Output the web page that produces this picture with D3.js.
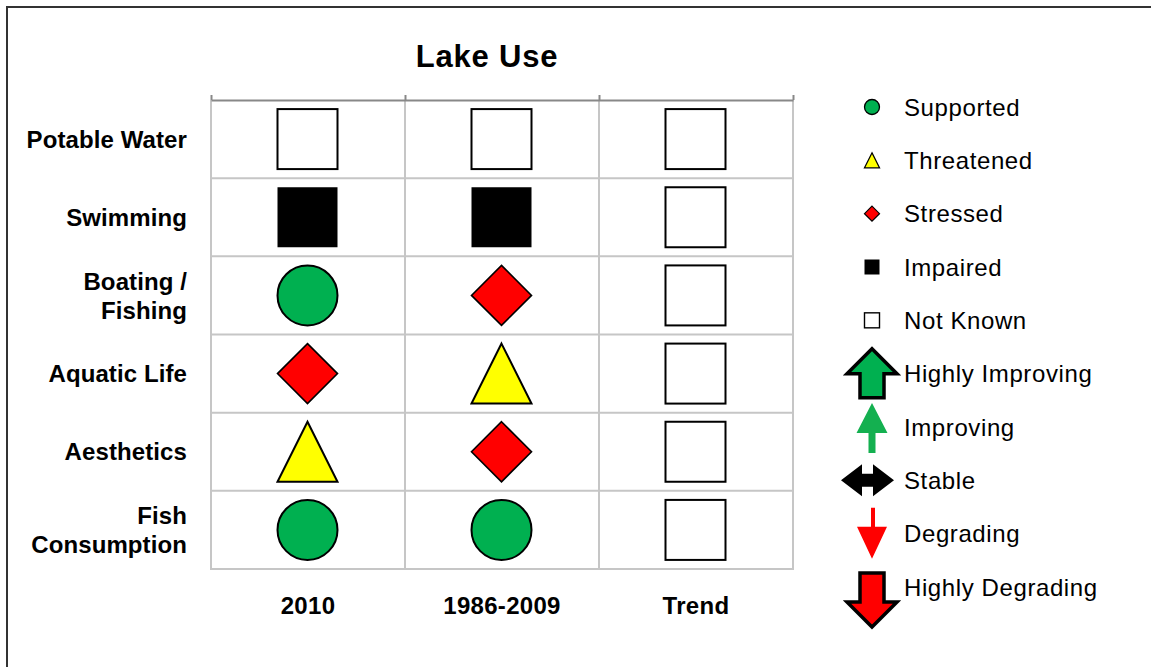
<!DOCTYPE html>
<html>
<head>
<meta charset="utf-8">
<script src="https://cdn.jsdelivr.net/npm/d3@7"></script>
<style>
  html, body { margin: 0; padding: 0; background: #fff; }
  svg { display: block; font-family: "Liberation Sans", Arial, sans-serif; }
</style>
</head>
<body>
<svg id="chart" width="1151" height="667"></svg>
<script>
// Lake use status table with symbol legend

const uses = ['Potable Water', 'Swimming', 'Boating / Fishing', 'Aquatic Life', 'Aesthetics', 'Fish Consumption'];
const useLines = [['Potable Water'], ['Swimming'], ['Boating /', 'Fishing'], ['Aquatic Life'], ['Aesthetics'], ['Fish', 'Consumption']];
const periods = ['2010', '1986-2009', 'Trend'];
const status2010 = ['notknown', 'impaired', 'supported', 'stressed', 'threatened', 'supported'];
const status1986 = ['notknown', 'impaired', 'stressed', 'threatened', 'stressed', 'supported'];
const statusTrend = ['notknown', 'notknown', 'notknown', 'notknown', 'notknown', 'notknown'];

const legendKeys = ['supported', 'threatened', 'stressed', 'impaired', 'notknown',
  'highlyimproving', 'improving', 'stable', 'degrading', 'highlydegrading'];
const legendLabels = ['Supported', 'Threatened', 'Stressed', 'Impaired', 'Not Known',
  'Highly Improving', 'Improving', 'Stable', 'Degrading', 'Highly Degrading'];

const GREEN = '#00b050', RED = '#ff0000', YELLOW = '#ffff00';

const svg = d3.select('#chart');

// outer frame (only top/left visible in the picture)
svg.append('rect')
  .attr('x', 7).attr('y', 7).attr('width', 1400).attr('height', 1000)
  .attr('fill', 'none').attr('stroke', '#333').attr('stroke-width', 2);

const x = d3.scaleBand().domain(periods).range([211, 793]);
const y = d3.scaleBand().domain(uses).range([100, 569]);

// grid
const grid = svg.append('g').attr('stroke', '#c6c6c6').attr('stroke-width', 2);
periods.slice(1).forEach(p => {
  grid.append('line').attr('x1', x(p)).attr('x2', x(p)).attr('y1', 100).attr('y2', 569);
});
uses.slice(1).forEach(u => {
  grid.append('line').attr('x1', 211).attr('x2', 793).attr('y1', y(u)).attr('y2', y(u));
});
grid.append('line').attr('x1', 211).attr('x2', 211).attr('y1', 100).attr('y2', 569);
grid.append('line').attr('x1', 793).attr('x2', 793).attr('y1', 100).attr('y2', 569);
grid.append('line').attr('x1', 210).attr('x2', 794).attr('y1', 569).attr('y2', 569);

// top axis line with outward ticks
const edges = periods.map(p => x(p)).concat([793]);
const topAxis = svg.append('g')
  .attr('transform', 'translate(0,100)')
  .call(d3.axisTop(d3.scaleLinear().domain([211, 793]).range([211, 793]))
    .tickValues(edges).tickSize(5).tickSizeOuter(0).tickFormat(''));
topAxis.selectAll('path, line').attr('stroke', '#888').attr('stroke-width', 2);

// symbol drawing
function drawSymbol(g, key, s) {
  // s = overall size in px
  const h = s / 2;
  if (key === 'supported') {
    g.append('circle').attr('r', h).attr('fill', GREEN).attr('stroke', '#000').attr('stroke-width', s > 30 ? 2 : 1.3);
  } else if (key === 'threatened') {
    g.append('path').attr('d', `M0,${-h}L${h},${h}L${-h},${h}Z`)
      .attr('fill', YELLOW).attr('stroke', '#000').attr('stroke-width', s > 30 ? 2 : 1.3);
  } else if (key === 'stressed') {
    g.append('path').attr('d', `M0,${-h}L${h},0L0,${h}L${-h},0Z`)
      .attr('fill', RED).attr('stroke', '#000').attr('stroke-width', s > 30 ? 1.6 : 1.2);
  } else if (key === 'impaired') {
    g.append('rect').attr('x', -h).attr('y', -h).attr('width', s).attr('height', s).attr('fill', '#000');
  } else if (key === 'notknown') {
    g.append('rect').attr('x', -h).attr('y', -h).attr('width', s).attr('height', s)
      .attr('fill', '#fff').attr('stroke', '#000').attr('stroke-width', s > 30 ? 2 : 1.4);
  } else if (key === 'highlyimproving') {
    g.append('path').attr('d', 'M0,-25L25,0L12,0L12,24L-12,24L-12,0L-25,0Z')
      .attr('fill', GREEN).attr('stroke', '#000').attr('stroke-width', 3.5).attr('stroke-linejoin', 'miter');
  } else if (key === 'improving') {
    g.append('path').attr('d', 'M0,-24L15.5,6L3.5,6L3.5,26L-3.5,26L-3.5,6L-15.5,6Z')
      .attr('fill', '#14b050');
  } else if (key === 'stable') {
    g.append('path').attr('d', 'M-31,0L-10,-16L-10,-6.5L1,-6.5L1,-16L22,0L1,16L1,6.5L-10,6.5L-10,16Z')
      .attr('fill', '#000');
  } else if (key === 'degrading') {
    g.append('path').attr('d', 'M-1,-26L3,-26L3,-7L15,-7L0,25L-15,-7L-1,-7Z')
      .attr('fill', RED);
  } else if (key === 'highlydegrading') {
    g.append('path').attr('d', 'M-12,-14L12,-14L12,15L25,15L0,40L-25,15L-12,15Z')
      .attr('fill', RED).attr('stroke', '#000').attr('stroke-width', 3.5);
  }
}

// table cells
const columns = [status2010, status1986, statusTrend];
columns.forEach((col, ci) => {
  col.forEach((st, ri) => {
    const cx = x(periods[ci]) + x.bandwidth() / 2 - 0.5;
    const cy = y(uses[ri]) + y.bandwidth() / 2;
    const g = svg.append('g').attr('transform', `translate(${cx},${cy})`);
    drawSymbol(g, st, 60);
  });
});

// row labels
const rowLab = svg.append('g')
  .attr('font-weight', 'bold').attr('font-size', 24).attr('letter-spacing', 0.1)
  .attr('text-anchor', 'end').attr('fill', '#000');
useLines.forEach((lines, i) => {
  const cy = y(uses[i]) + y.bandwidth() / 2;
  lines.forEach((ln, j) => {
    rowLab.append('text')
      .attr('x', 187)
      .attr('y', cy + (j - (lines.length - 1) / 2) * 29)
      .attr('dy', '0.36em')
      .text(ln);
  });
});

// column labels
svg.append('g')
  .attr('font-weight', 'bold').attr('font-size', 24).attr('letter-spacing', 0.3)
  .attr('text-anchor', 'middle')
  .selectAll('text').data(periods).join('text')
    .attr('x', d => x(d) + x.bandwidth() / 2)
    .attr('y', 614)
    .text(d => d);

// title
svg.append('text')
  .attr('x', 487).attr('y', 67)
  .attr('text-anchor', 'middle')
  .attr('font-weight', 'bold').attr('font-size', 31).attr('letter-spacing', 0.8)
  .text('Lake Use');

// legend
const ly = d3.scalePoint().domain(legendKeys).range([107, 587]);
const leg = svg.append('g');
legendKeys.forEach((k, i) => {
  const g = leg.append('g').attr('transform', `translate(872,${ly(k)})`);
  drawSymbol(g, k, 15);
  leg.append('text')
    .attr('x', 904).attr('y', ly(k))
    .attr('dy', '0.36em')
    .attr('font-size', 24).attr('letter-spacing', 0.6)
    .text(legendLabels[i]);
});
</script>
</body>
</html>
